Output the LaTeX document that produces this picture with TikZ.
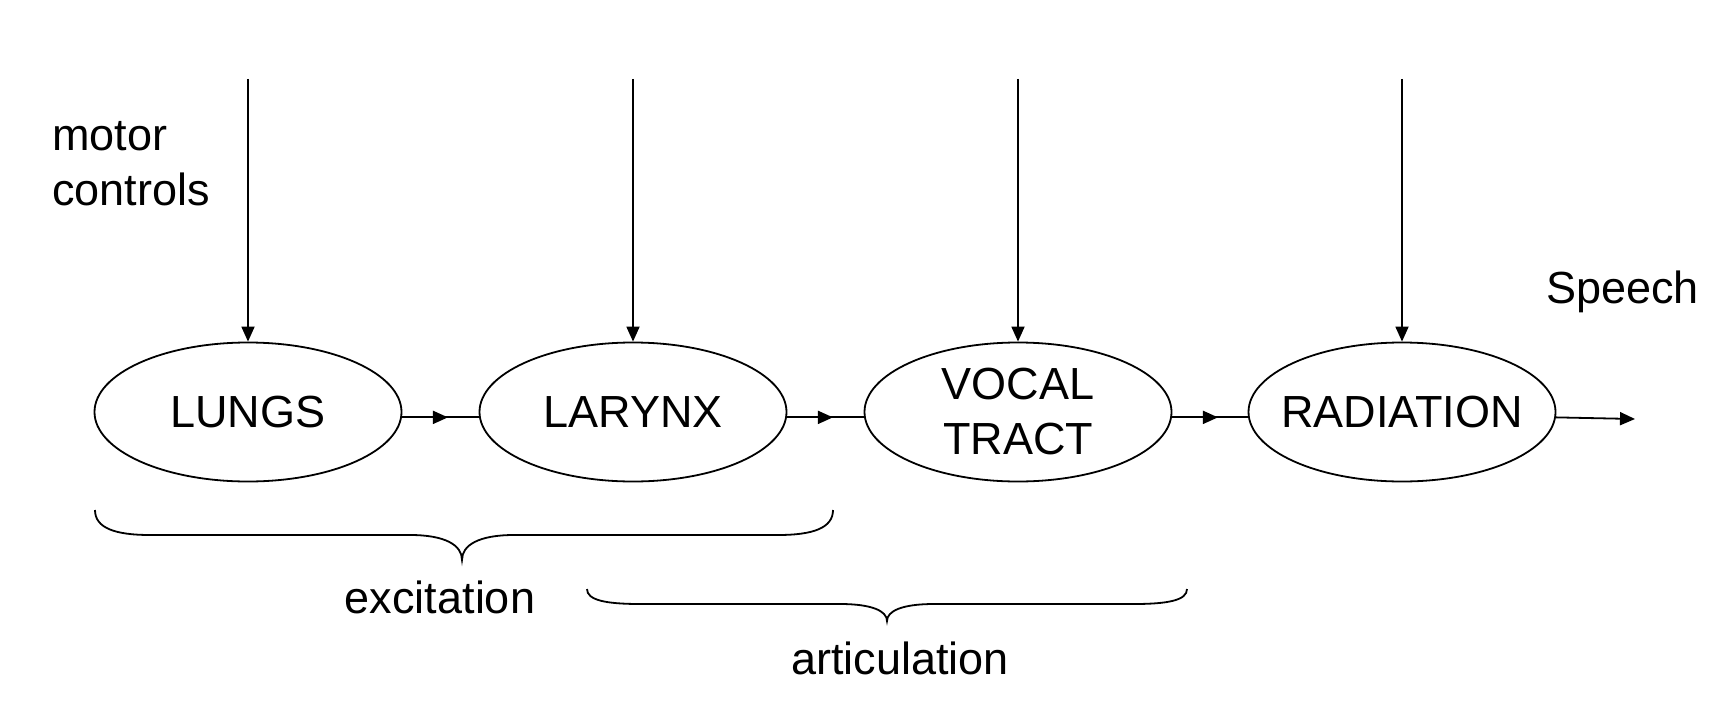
\documentclass[tikz,border=0pt]{standalone}
\usepackage{fontspec}
\setmainfont{Liberation Sans}
\usetikzlibrary{arrows.meta,decorations.markings,shapes.geometric}
\begin{document}
\begin{tikzpicture}[x=1pt,y=-1pt,
  every node/.style={font=\fontsize{45}{55}\selectfont},
  block/.style={ellipse, draw, line width=1.8pt, minimum width=307pt, minimum height=139pt, inner xsep=-25pt, inner ysep=0pt, align=center},
  link/.style={line width=1.8pt},
  headline/.style={link, -{Triangle[length=15pt,width=13pt]}},
  midarrow/.style={link, postaction={decorate}, decoration={markings, mark=at position 46pt with {\arrow{Triangle[length=15pt,width=13pt]}}}}
]
\useasboundingbox (0,0) rectangle (1726,722);

\node[block] (lungs) at (248,412) {LUNGS};
\node[block] (larynx) at (633,412) {LARYNX};
\node[block] (vocal) at (1018,412) {VOCAL\\TRACT};
\node[block] (rad) at (1402,412) {RADIATION};

\coordinate (c1) at (248,79);
\coordinate (c2) at (633,79);
\coordinate (c3) at (1018,79);
\coordinate (c4) at (1402,79);
\draw[headline] (c1) -- (lungs.north);
\draw[headline] (c2) -- (larynx.north);
\draw[headline] (c3) -- (vocal.north);
\draw[headline] (c4) -- (rad.north);

\draw[midarrow] (lungs.-2.6) -- (larynx.182.6);
\draw[midarrow] (larynx.-2.6) -- (vocal.182.6);
\draw[midarrow] (vocal.-2.6) -- (rad.182.6);
\coordinate (out) at (1635,419);
\draw[headline] (rad.-2.6) -- (out);

\node[anchor=base west, inner sep=0pt] (motor) at (52,151) {motor};
\node[anchor=base west, inner sep=0pt] (controls) at (52,206) {controls};
\node[anchor=base west, inner sep=0pt] (speech) at (1546,303) {Speech};

\draw[link] (95,510) .. controls (95,528) and (115,535) .. (150,535) -- (410,535)
  .. controls (445,535) and (462,545) .. (462,560)
  .. controls (462,545) and (479,535) .. (514,535) -- (778,535)
  .. controls (813,535) and (833,528) .. (833,510);
\node[anchor=base, inner sep=0pt] (exc) at (440,613) {excitation};

\draw[link] (587,589) .. controls (587,600) and (605,604) .. (640,604) -- (840,604)
  .. controls (872,604) and (887,611) .. (887,621)
  .. controls (887,611) and (902,604) .. (934,604) -- (1134,604)
  .. controls (1169,604) and (1187,600) .. (1187,589);
\node[anchor=base, inner sep=0pt] (art) at (900,674) {articulation};
\end{tikzpicture}
\end{document}
